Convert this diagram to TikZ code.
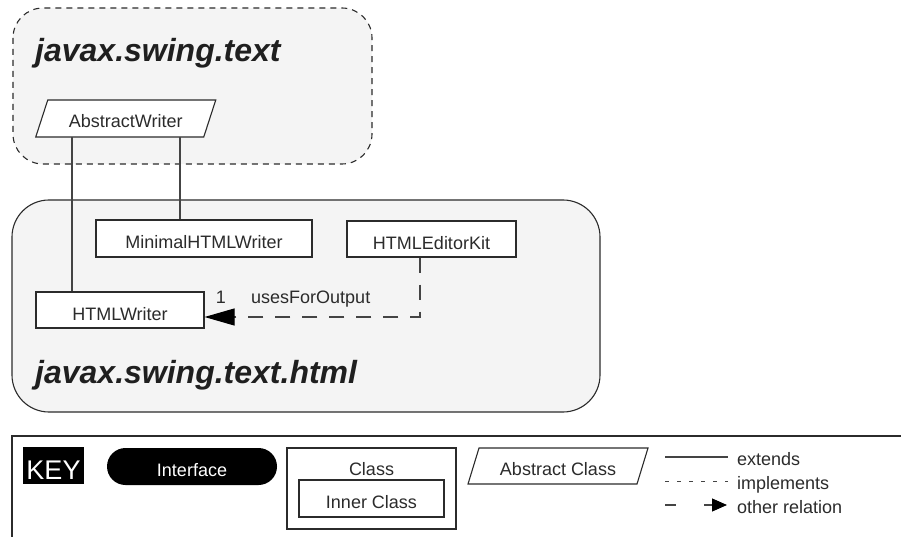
\documentclass[tikz,border=0pt]{standalone}
\usepackage{fontspec}
\setmainfont{Liberation Sans}
\usetikzlibrary{arrows.meta,calc}
\definecolor{pkgfill}{HTML}{F4F4F4}
\definecolor{ink}{HTML}{2B2B2B}
\definecolor{conn}{HTML}{444444}
\begin{document}
\begin{tikzpicture}[x=1pt,y=-1pt,
  every node/.style={font=\fontsize{18}{22}\selectfont, text=ink},
  pkg/.style={draw=ink, line width=1.1pt, fill=pkgfill},
  pkgtitle/.style={font=\fontsize{32}{38}\selectfont\bfseries\itshape, anchor=base west, inner sep=0pt, text=black!88},
  classbox/.style={draw=ink, line width=1.1pt, fill=white, minimum height=36pt, inner sep=0pt, text height=20pt, text depth=0pt},
  absshape/.style={draw=ink, line width=1.1pt, fill=white},
  abslabel/.style={inner sep=0pt, minimum height=37pt, text height=19pt, text depth=0pt},
  lbl/.style={anchor=base west, inner sep=0pt},
  extline/.style={draw=conn, line width=1.1pt},
  depline/.style={draw=conn, line width=1.1pt, dash pattern=on 15pt off 12pt, -{Triangle[length=30pt,width=17pt,color=black]}},
  keyframe/.style={draw=ink, line width=1.1pt}
]
\useasboundingbox (0,0) rectangle (901,537);

% packages
\draw[pkg, dash pattern=on 6pt off 5pt, rounded corners=30pt] (13,8) rectangle (372,164);
\node[pkgtitle] (t1) at (35,62) {javax.swing.text};
\draw[pkg, rounded corners=37pt] (12,200) rectangle (600,412);
\node[pkgtitle] (t2) at (35,383) {javax.swing.text.html};

% AbstractWriter (abstract class)
\coordinate (awc) at (125.75,118.5);
\filldraw[absshape] (awc) +(-90,18.5) -- +(-78,-18.5) -- +(90,-18.5) -- +(78,18.5) -- cycle;
\node[abslabel, minimum width=168pt] (aw) at (awc) {AbstractWriter};

% classes
\node[classbox, minimum width=216pt, minimum height=37pt] (mhw) at (204,238.5) {MinimalHTMLWriter};
\node[classbox, minimum width=169pt] (hek) at (431.5,239) {HTMLEditorKit};
\node[classbox, minimum width=168pt] (hw) at (120,310) {HTMLWriter};

% extends connectors
\coordinate (xa) at (72,0);
\coordinate (xb) at (180,0);
\draw[extline] (aw.south -| xa) -- (hw.north -| xa);
\draw[extline] (aw.south -| xb) -- (mhw.north -| xb);

% uses relation
\coordinate (xd) at (420,0);
\draw[depline] (hek.south -| xd) |- ([yshift=-7pt]hw.east);
\node[inner sep=0pt, anchor=base] (one) at (221,303) {1};
\node[lbl] (uses) at (251,303) {usesForOutput};

% key
\coordinate (kb) at (12,540);
\coordinate (kt) at (12,436);
\coordinate (kr) at (905,436);
\draw[keyframe] (kb) -- (kt) -- (kr);
\node[fill=black, text=white, font=\fontsize{27}{30}\selectfont, minimum width=61pt, minimum height=37pt, inner sep=0pt, text height=27pt, text depth=0pt] (key) at (53.5,465.5) {KEY};
\node[fill=black, text=white, rounded corners=18.5pt, minimum width=170pt, minimum height=37pt, inner sep=0pt, text height=19pt, text depth=0pt] (iface) at (192,466.5) {Interface};
\node[draw=ink, line width=1.1pt, fill=white, minimum width=169pt, minimum height=81pt, inner sep=0pt] (cls) at (371.5,488.5) {};
\node[inner sep=0pt, anchor=base] (clsl) at (371.5,475) {Class};
\node[classbox, minimum width=145pt, minimum height=37pt] (inner) at (371.5,498.5) {Inner Class};
\coordinate (acc) at (558,466);
\filldraw[absshape] (acc) +(-90,18) -- +(-79,-18) -- +(90,-18) -- +(79,18) -- cycle;
\node[abslabel, minimum width=169pt] (absc) at (acc) {Abstract Class};

% legend
\node[lbl] (lext) at (737,465) {extends};
\node[lbl] (limp) at (737,489) {implements};
\node[lbl] (loth) at (737,513) {other relation};
\coordinate (e1) at (665,457);
\coordinate (e2) at (728,457);
\draw[extline] (e1) -- (e2);
\coordinate (i1) at (665,481);
\coordinate (i2) at (728,481);
\draw[extline, line width=0.9pt, dash pattern=on 4pt off 8pt] (i1) -- (i2);
\coordinate (o1) at (665,505);
\coordinate (o2) at (676,505);
\coordinate (o3) at (704,505);
\coordinate (o4) at (727,505);
\draw[extline] (o1) -- (o2);
\draw[extline, -{Triangle[length=15pt,width=13pt,color=black]}] (o3) -- (o4);
\end{tikzpicture}
\end{document}
